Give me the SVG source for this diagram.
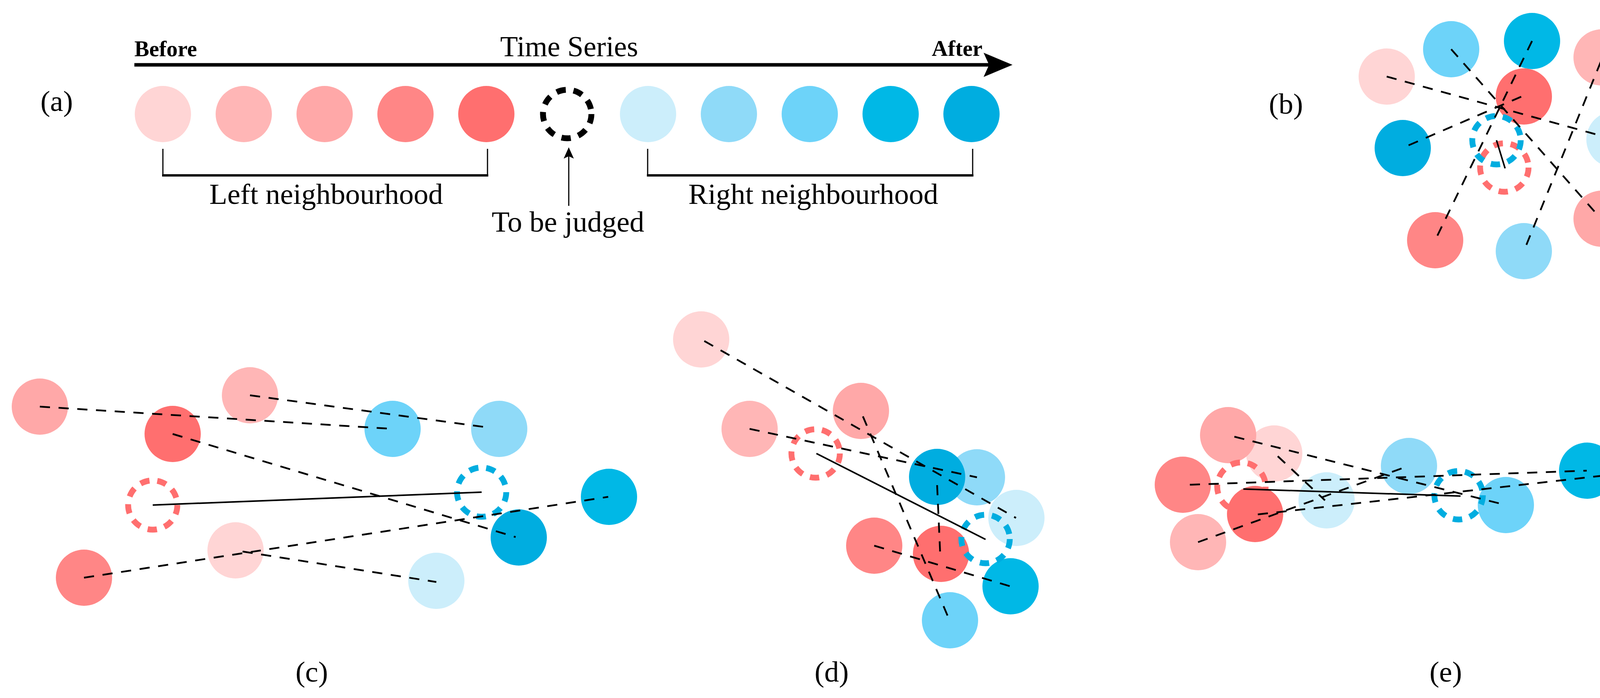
<svg xmlns="http://www.w3.org/2000/svg" width="4354" height="1787" viewBox="0 0 4354 1787">
<style>
.txt{font-family:"Liberation Serif","Times New Roman",serif;fill:#000}
.lbl{font-size:75px;text-anchor:middle}
.bold{font-size:57px;font-weight:bold}
.l1{fill:#FFD5D5}.l2{fill:#FFB6B6}.l3{fill:#FFA8A8}.l4{fill:#FF8686}.l5{fill:#FF6F6F}
.r1{fill:#CCEEFB}.r2{fill:#8FDAF8}.r3{fill:#6DD3F9}.r4{fill:#00B8E6}.r5{fill:#00ADE0}
.ring{fill:none;stroke-width:15;stroke-dasharray:24 20}
.rr{stroke:#FF6F6F}.rb{stroke:#00ADE0}.rk{stroke:#000}
.dl{fill:none;stroke:#000;stroke-width:4.5;stroke-dasharray:26 22}
.sl{fill:none;stroke:#000;stroke-width:4}
.br{fill:none;stroke:#000}
</style>
<defs>
<marker id="bigHead" viewBox="0 0 74 62" markerWidth="74" markerHeight="62" refX="14" refY="31" orient="auto" markerUnits="userSpaceOnUse">
<path d="M0,0 L74,31 L0,62 L14,31 Z" fill="#000"/>
</marker>
<marker id="smallHead" viewBox="0 0 29 26" markerWidth="29" markerHeight="26" refX="6" refY="13" orient="auto" markerUnits="userSpaceOnUse">
<path d="M0,0 L29,13 L0,26 L6,13 Z" fill="#000"/>
</marker>
</defs>
<rect width="4354" height="1787" fill="#fff"/>

<!-- Panel (a) -->
<g id="panel-a-labels">
<text class="txt lbl" x="145" y="284">(a)</text>
<text class="txt bold" x="344" y="144">Before</text>
<text class="txt" x="1457" y="144" font-size="74" text-anchor="middle">Time Series</text>
<text class="txt bold" x="2515" y="143" text-anchor="end">After</text>
<text class="txt lbl" x="835" y="522">Left neighbourhood</text>
<text class="txt lbl" x="2082" y="522">Right neighbourhood</text>
<text class="txt lbl" x="1454" y="593">To be judged</text>
</g>
<g id="a-n1"><circle class="l1" cx="417" cy="292" r="72"/></g>
<g id="a-n2"><circle class="l2" cx="624" cy="292" r="72"/></g>
<g id="a-n3"><circle class="l3" cx="831" cy="292" r="72"/></g>
<g id="a-n4"><circle class="l4" cx="1038" cy="292" r="72"/></g>
<g id="a-n5"><circle class="l5" cx="1245" cy="292" r="72"/></g>
<g id="a-judge"><circle class="ring rk" cx="1452" cy="292" r="62"/></g>
<g id="a-n6"><circle class="r1" cx="1659" cy="292" r="72"/></g>
<g id="a-n7"><circle class="r2" cx="1866" cy="292" r="72"/></g>
<g id="a-n8"><circle class="r3" cx="2073" cy="292" r="72"/></g>
<g id="a-n9"><circle class="r4" cx="2280" cy="292" r="72"/></g>
<g id="a-n10"><circle class="r5" cx="2487" cy="292" r="72"/></g>

<!-- Panel (b) -->
<g id="panel-b">
<text class="txt lbl" x="3292" y="291">(b)</text>
<circle class="l1" cx="3550" cy="196" r="72"/>
<circle class="r3" cx="3715" cy="126" r="72"/>
<circle class="r4" cx="3922" cy="105" r="72"/>
<circle class="l2" cx="4100" cy="147" r="72"/>
<circle class="l5" cx="3901" cy="247" r="72"/>
<circle class="r5" cx="3591" cy="379" r="72"/>
<circle class="r1" cx="4133" cy="357" r="72"/>
<circle class="l4" cx="3674" cy="615" r="72"/>
<circle class="r2" cx="3901" cy="643" r="72"/>
<circle class="l3" cx="4100" cy="560" r="72"/>
<circle class="ring rr" cx="3851" cy="429" r="62"/>
<circle class="ring rb" cx="3831" cy="359" r="62"/>
</g>

<!-- Panel (c) -->
<g id="panel-c">
<text class="txt lbl" x="798" y="1745">(c)</text>
<circle class="l3" cx="102" cy="1041" r="72"/>
<circle class="l5" cx="442" cy="1111" r="72"/>
<circle class="l2" cx="640" cy="1012" r="72"/>
<circle class="r3" cx="1005" cy="1098" r="72"/>
<circle class="r2" cx="1278" cy="1098" r="72"/>
<circle class="r4" cx="1559" cy="1272" r="72"/>
<circle class="r5" cx="1328" cy="1376" r="72"/>
<circle class="l1" cx="603" cy="1409" r="72"/>
<circle class="l4" cx="215" cy="1479" r="72"/>
<circle class="r1" cx="1117" cy="1487" r="72"/>
<circle class="ring rr" cx="391" cy="1293" r="63"/>
<circle class="ring rb" cx="1233" cy="1260" r="63"/>
</g>

<!-- Panel (d) -->
<g id="panel-d">
<text class="txt lbl" x="2129" y="1745">(d)</text>
<circle class="l1" cx="1795" cy="869" r="72"/>
<circle class="l2" cx="1919" cy="1098" r="72"/>
<circle class="l3" cx="2204" cy="1052" r="72"/>
<circle class="r1" cx="2602" cy="1326" r="72"/>
<circle class="r2" cx="2501" cy="1222" r="72"/>
<circle class="r5" cx="2399" cy="1221" r="72"/>
<circle class="l4" cx="2238" cy="1397" r="72"/>
<circle class="l5" cx="2409" cy="1418" r="72"/>
<circle class="r4" cx="2587" cy="1501" r="72"/>
<circle class="r3" cx="2432" cy="1588" r="72"/>
<circle class="ring rr" cx="2088" cy="1161" r="62"/>
<circle class="ring rb" cx="2523" cy="1380" r="62"/>
</g>

<!-- Panel (e) -->
<g id="panel-e">
<text class="txt lbl" x="3701" y="1745">(e)</text>
<circle class="l1" cx="3262" cy="1161" r="72"/>
<circle class="l3" cx="3144" cy="1114" r="72"/>
<circle class="l4" cx="3028" cy="1241" r="72"/>
<circle class="l2" cx="3067" cy="1388" r="72"/>
<circle class="ring rr" cx="3178" cy="1246" r="62"/>
<circle class="l5" cx="3213" cy="1316" r="72"/>
<circle class="r1" cx="3396" cy="1281" r="72"/>
<circle class="r2" cx="3607" cy="1193" r="72"/>
<circle class="r3" cx="3855" cy="1293" r="72"/>
<circle class="ring rb" cx="3734" cy="1268" r="62"/>
<circle class="r4" cx="4063" cy="1205" r="72"/>
<circle class="r5" cx="4256" cy="1202" r="72"/>
</g>

<!-- Connectors -->
<g id="connectors">
<line x1="344" y1="166" x2="2532" y2="166" stroke="#000" stroke-width="9" marker-end="url(#bigHead)"/>
<line x1="1456" y1="527" x2="1456" y2="400" stroke="#000" stroke-width="3" marker-end="url(#smallHead)"/>
<line class="br" x1="417" y1="381" x2="417" y2="449" stroke-width="3"/>
<line class="br" x1="1248" y1="381" x2="1248" y2="449" stroke-width="3"/>
<line class="br" x1="415" y1="449" x2="1250" y2="449" stroke-width="6"/>
<line class="br" x1="1658" y1="381" x2="1658" y2="449" stroke-width="3"/>
<line class="br" x1="2490" y1="381" x2="2490" y2="449" stroke-width="3"/>
<line class="br" x1="1656" y1="449" x2="2492" y2="449" stroke-width="6"/>

<line class="dl" x1="3550" y1="196" x2="4133" y2="357"/>
<line class="dl" x1="3715" y1="126" x2="4093" y2="554"/>
<line class="dl" x1="3922" y1="105" x2="3674" y2="615"/>
<line class="dl" x1="4098" y1="158" x2="3901" y2="643"/>
<line class="dl" x1="3606" y1="372" x2="3898" y2="246"/>
<line class="sl" x1="3831" y1="359" x2="3853" y2="431"/>

<line class="dl" x1="102" y1="1041" x2="1005" y2="1098"/>
<line class="dl" x1="640" y1="1012" x2="1254" y2="1095"/>
<line class="dl" x1="442" y1="1111" x2="1320" y2="1375"/>
<line class="dl" x1="215" y1="1479" x2="1557" y2="1272"/>
<line class="dl" x1="621" y1="1412" x2="1117" y2="1490"/>
<line class="sl" x1="391" y1="1293" x2="1233" y2="1260"/>

<line class="dl" x1="1803" y1="873" x2="2601" y2="1326"/>
<line class="dl" x1="1919" y1="1098" x2="2501" y2="1222"/>
<line class="dl" x1="2209" y1="1066" x2="2432" y2="1591"/>
<line class="dl" x1="2238" y1="1397" x2="2586" y2="1501"/>
<line class="dl" x1="2399" y1="1242" x2="2407" y2="1420"/>
<line class="sl" x1="2090" y1="1161" x2="2523" y2="1381"/>

<line class="dl" x1="3160" y1="1118" x2="3855" y2="1293"/>
<line class="dl" x1="3271" y1="1168" x2="3392" y2="1281"/>
<line class="dl" x1="3046" y1="1241" x2="4062" y2="1205"/>
<line class="dl" x1="3067" y1="1388" x2="3597" y2="1196"/>
<line class="dl" x1="3220" y1="1317" x2="4253" y2="1201"/>
<line class="sl" x1="3183" y1="1252" x2="3739" y2="1270"/>
</g>
</svg>
